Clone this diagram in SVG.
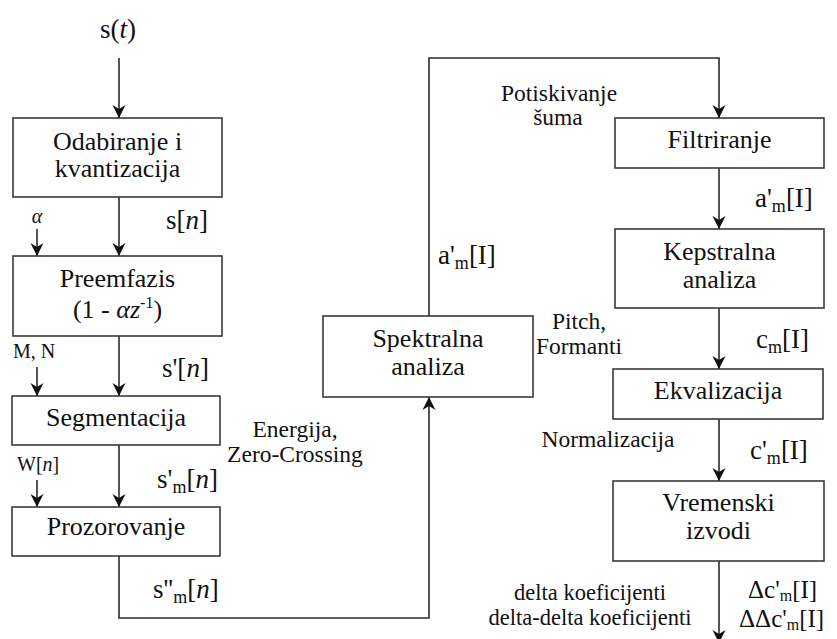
<svg xmlns="http://www.w3.org/2000/svg" width="837" height="639" viewBox="0 0 837 639">
<style>
  .box { fill: #fff; stroke: #3a3a3a; stroke-width: 1.6; }
  .line { fill: none; stroke: #2a2a2a; stroke-width: 1.6; }
  text { font-family: "Liberation Serif", "Tinos", "Times New Roman", "DejaVu Serif", "Noto Serif", serif; fill: #111; }
  .bt { font-size: 26px; text-anchor: middle; }
  .lb { font-size: 23.5px; text-anchor: middle; }
  .lbs { font-size: 22.5px; text-anchor: middle; }
  .sg { font-size: 27px; }
  .sd { font-size: 25px; }
  .sm { font-size: 20px; }
  .it { font-style: italic; }
</style>
<defs>
  <marker id="arr" viewBox="0 0 14 14" refX="13" refY="7" markerWidth="14" markerHeight="14" markerUnits="userSpaceOnUse" orient="auto">
    <path d="M0,0.5 L13,7 L0,13.5 L4,7 Z" fill="#111"/>
  </marker>
</defs>

<g id="connectors">
  <line class="line" x1="119" y1="58" x2="119" y2="118" marker-end="url(#arr)"/>
  <line class="line" x1="119" y1="197" x2="119" y2="256" marker-end="url(#arr)"/>
  <line class="line" x1="37" y1="229" x2="37" y2="256" marker-end="url(#arr)"/>
  <line class="line" x1="119" y1="336" x2="119" y2="396" marker-end="url(#arr)"/>
  <line class="line" x1="37" y1="367" x2="37" y2="396" marker-end="url(#arr)"/>
  <line class="line" x1="119" y1="445" x2="119" y2="507" marker-end="url(#arr)"/>
  <line class="line" x1="37" y1="480" x2="37" y2="507" marker-end="url(#arr)"/>
  <polyline class="line" points="119,556 119,618 429,618 429,397" marker-end="url(#arr)"/>
  <polyline class="line" points="429,316 429,58 719,58 719,118" marker-end="url(#arr)"/>
  <line class="line" x1="719" y1="168" x2="719" y2="229" marker-end="url(#arr)"/>
  <line class="line" x1="719" y1="308" x2="719" y2="369" marker-end="url(#arr)"/>
  <line class="line" x1="719" y1="419" x2="719" y2="481" marker-end="url(#arr)"/>
  <line class="line" x1="719" y1="561" x2="719" y2="643" marker-end="url(#arr)"/>
</g>

<g id="odabiranje">
  <rect class="box" x="13" y="118" width="209" height="79"/>
  <text class="bt" x="117.5" y="150">Odabiranje i</text>
  <text class="bt" x="117.5" y="177">kvantizacija</text>
</g>
<g id="preemfazis">
  <rect class="box" x="13" y="256" width="209" height="80"/>
  <text class="bt" x="117.5" y="287">Preemfazis</text>
  <text class="bt" x="117.5" y="318">(1 - <tspan class="it">αz</tspan><tspan font-size="16" dy="-10">-1</tspan><tspan dy="10">)</tspan></text>
</g>
<g id="segmentacija">
  <rect class="box" x="12" y="396" width="208" height="49"/>
  <text class="bt" x="116" y="426">Segmentacija</text>
</g>
<g id="prozorovanje">
  <rect class="box" x="12" y="507" width="208" height="49"/>
  <text class="bt" x="116" y="535">Prozorovanje</text>
</g>
<g id="spektralna">
  <rect class="box" x="323" y="316" width="210" height="81"/>
  <text class="bt" x="428" y="347">Spektralna</text>
  <text class="bt" x="428" y="375">analiza</text>
</g>
<g id="filtriranje">
  <rect class="box" x="615" y="118" width="209" height="50"/>
  <text class="bt" x="719.5" y="148">Filtriranje</text>
</g>
<g id="kepstralna">
  <rect class="box" x="615" y="229" width="209" height="79"/>
  <text class="bt" x="719.5" y="260">Kepstralna</text>
  <text class="bt" x="719.5" y="288">analiza</text>
</g>
<g id="ekvalizacija">
  <rect class="box" x="613" y="369" width="210" height="50"/>
  <text class="bt" x="718" y="399">Ekvalizacija</text>
</g>
<g id="vremenski">
  <rect class="box" x="613" y="481" width="211" height="80"/>
  <text class="bt" x="718.5" y="511">Vremenski</text>
  <text class="bt" x="718.5" y="539">izvodi</text>
</g>

<g id="labels">
  <text class="sg" x="118" y="38" text-anchor="middle">s(<tspan class="it">t</tspan>)</text>
  <text class="sg" x="166" y="229">s[<tspan class="it">n</tspan>]</text>
  <text class="sm it" x="37" y="223" text-anchor="middle">α</text>
  <text class="sm" x="13" y="358">M, N</text>
  <text class="sg" x="162" y="377">s'[<tspan class="it">n</tspan>]</text>
  <text class="sm" x="17" y="471">W[<tspan class="it">n</tspan>]</text>
  <text class="sg" x="157" y="488">s'<tspan font-size="18" dy="5">m</tspan><tspan dy="-5">[</tspan><tspan class="it">n</tspan>]</text>
  <text class="sg" x="153" y="598">s''<tspan font-size="18" dy="5">m</tspan><tspan dy="-5">[</tspan><tspan class="it">n</tspan>]</text>
  <text class="lb" x="295" y="437">Energija,</text>
  <text class="lb" x="295" y="462">Zero-Crossing</text>
  <text class="sg" x="438" y="264">a'<tspan font-size="18" dy="5">m</tspan><tspan dy="-5">[I]</tspan></text>
  <text class="lb" x="559" y="101">Potiskivanje</text>
  <text class="lb" x="558" y="125">šuma</text>
  <text class="sg" x="755" y="207">a'<tspan font-size="18" dy="5">m</tspan><tspan dy="-5">[I]</tspan></text>
  <text class="lb" x="579" y="329">Pitch,</text>
  <text class="lb" x="579" y="354">Formanti</text>
  <text class="sg" x="756" y="348">c<tspan font-size="18" dy="5">m</tspan><tspan dy="-5">[I]</tspan></text>
  <text class="lb" x="608" y="447">Normalizacija</text>
  <text class="sg" x="750" y="459">c'<tspan font-size="18" dy="5">m</tspan><tspan dy="-5">[I]</tspan></text>
  <text class="lbs" x="590" y="600">delta koeficijenti</text>
  <text class="lbs" x="590" y="625">delta-delta koeficijenti</text>
  <text class="sd" x="748" y="598">Δc'<tspan font-size="16" dy="3">m</tspan><tspan dy="-3">[I]</tspan></text>
  <text class="sd" x="739" y="627">ΔΔc'<tspan font-size="16" dy="3">m</tspan><tspan dy="-3">[I]</tspan></text>
</g>
</svg>
